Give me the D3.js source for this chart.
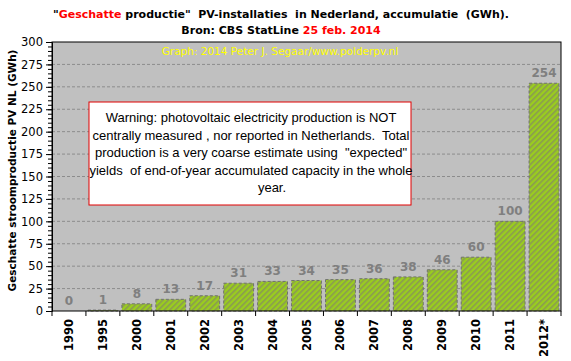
<!DOCTYPE html>
<html>
<head>
<meta charset="utf-8">
<script src="https://cdn.jsdelivr.net/npm/d3@7"></script>
<style>
  body { margin: 0; background: #fff; }
  svg { display: block; }
  text { white-space: pre; }
</style>
</head>
<body>
<svg id="chart" width="571" height="361"></svg>
<script>
// data
var years = ['1990', '1995', '2000', '2001', '2002', '2003', '2004', '2005', '2006', '2007', '2008', '2009', '2010', '2011', '2012*'];
var production = [0, 1, 8, 13, 17, 31, 33, 34, 35, 36, 38, 46, 60, 100, 254];
var yTicks = [0, 25, 50, 75, 100, 125, 150, 175, 200, 225, 250, 275, 300];
var warningLines = [
    'Warning: photovoltaic electricity production is NOT',
    'centrally measured , nor reported in Netherlands.  Total',
    'production is a very coarse estimate using  "expected"',
    'yields  of end-of-year accumulated capacity in the whole',
    'year.'
];

var margin = {left: 52, top: 42, right: 10, bottom: 50};
var width = 571, height = 361;
var innerW = width - margin.left - margin.right;
var innerH = height - margin.top - margin.bottom;

var svg = d3.select('#chart');

// hatch fill for the bars
var defs = svg.append('defs');
var pat = defs.append('pattern')
    .attr('id', 'hatch')
    .attr('patternUnits', 'userSpaceOnUse')
    .attr('width', 4).attr('height', 4)
    .attr('patternTransform', 'rotate(45)');
pat.append('rect').attr('width', 4).attr('height', 4).attr('fill', '#9acd1e');
pat.append('rect').attr('width', 1.6).attr('height', 4).attr('fill', '#8a9a52');

var g = svg.append('g').attr('transform', 'translate(' + margin.left + ',' + margin.top + ')');

var x = d3.scaleBand().domain(years).range([0, innerW]).paddingInner(0.12).paddingOuter(0.06);
var y = d3.scaleLinear().domain([0, 300]).range([innerH, 0]);

// plot background
g.append('rect')
    .attr('width', innerW).attr('height', innerH)
    .attr('fill', '#c0c0c0');

// dashed gridlines
g.selectAll('line.grid').data(yTicks.slice(1, -1)).enter().append('line')
    .attr('class', 'grid')
    .attr('x1', 0).attr('x2', innerW)
    .attr('y1', function (d) { return y(d); })
    .attr('y2', function (d) { return y(d); })
    .attr('stroke', '#8c8c8c')
    .attr('stroke-width', 1)
    .attr('stroke-dasharray', '3,2');

// watermark
g.append('text')
    .attr('x', 228).attr('y', 13)
    .attr('text-anchor', 'middle')
    .attr('font-family', 'DejaVu Sans, Verdana, sans-serif')
    .attr('font-size', 10.5)
    .attr('fill', '#ffff00')
    .text('Graph: 2014 Peter J. Segaar/www.polderpv.nl');

// bars
g.selectAll('rect.bar').data(production).enter().append('rect')
    .attr('class', 'bar')
    .attr('x', function (d, i) { return x(years[i]); })
    .attr('width', x.bandwidth())
    .attr('y', function (d) { return y(d); })
    .attr('height', function (d) { return innerH - y(d); })
    .attr('fill', 'url(#hatch)')
    .attr('stroke', '#707070')
    .attr('stroke-width', 1)
    .attr('stroke-dasharray', '3,2');

// value labels
g.selectAll('text.val').data(production).enter().append('text')
    .attr('class', 'val')
    .attr('x', function (d, i) { return x(years[i]) + x.bandwidth() / 2; })
    .attr('y', function (d) { return y(d) - 6; })
    .attr('text-anchor', 'middle')
    .attr('font-family', 'DejaVu Sans, Verdana, sans-serif')
    .attr('font-weight', 'bold')
    .attr('font-size', 12)
    .attr('fill', '#7f7f7f')
    .text(function (d) { return d; });

// border
g.append('rect')
    .attr('width', innerW).attr('height', innerH)
    .attr('fill', 'none')
    .attr('stroke', '#000').attr('stroke-width', 1);

// y axis with minor ticks
var yMinor = d3.axisLeft(y).tickValues(d3.range(0, 301, 5)).tickSize(4).tickFormat('');
g.append('g').call(yMinor).call(function (a) { a.select('.domain').remove(); });
var yAxis = d3.axisLeft(y).tickValues(yTicks).tickSize(6).tickPadding(3);
g.append('g').call(yAxis)
    .call(function (a) {
        a.select('.domain').attr('stroke', '#000');
        a.selectAll('text')
            .attr('font-family', 'DejaVu Sans, Verdana, sans-serif')
            .attr('font-size', 11.5)
            .attr('fill', '#000');
    });

// x axis: ticks at category boundaries
g.selectAll('line.xtick').data(d3.range(years.length + 1)).enter().append('line')
    .attr('class', 'xtick')
    .attr('x1', function (i) { return i * innerW / years.length; })
    .attr('x2', function (i) { return i * innerW / years.length; })
    .attr('y1', innerH).attr('y2', innerH + 5)
    .attr('stroke', '#000');

g.selectAll('text.xlab').data(years).enter().append('text')
    .attr('class', 'xlab')
    .attr('transform', function (d) {
        return 'translate(' + (x(d) + x.bandwidth() / 2 + 4) + ',' + (innerH + 8) + ') rotate(-90)';
    })
    .attr('text-anchor', 'end')
    .attr('font-family', 'DejaVu Sans, Verdana, sans-serif')
    .attr('font-weight', 'bold')
    .attr('font-size', 11.5)
    .attr('fill', '#000')
    .text(function (d) { return d; });

// y axis title
svg.append('text')
    .attr('transform', 'translate(16,' + (margin.top + innerH / 2 - 6) + ') rotate(-90)')
    .attr('text-anchor', 'middle')
    .attr('font-family', 'DejaVu Sans, Verdana, sans-serif')
    .attr('font-weight', 'bold')
    .attr('font-size', 10.5)
    .attr('fill', '#000')
    .text('Geschatte stroomproductie PV NL (GWh)');

// title
var t1 = svg.append('text')
    .attr('x', 281).attr('y', 18)
    .attr('text-anchor', 'middle')
    .attr('font-family', 'DejaVu Sans, Verdana, sans-serif')
    .attr('font-weight', 'bold')
    .attr('font-size', 11)
    .attr('fill', '#000');
t1.append('tspan').text('"');
t1.append('tspan').attr('fill', '#ff0000').text('Geschatte');
t1.append('tspan').text(' productie"  PV-installaties  in Nederland, accumulatie  (GWh).');

var t2 = svg.append('text')
    .attr('x', 281).attr('y', 34)
    .attr('text-anchor', 'middle')
    .attr('font-family', 'DejaVu Sans, Verdana, sans-serif')
    .attr('font-weight', 'bold')
    .attr('font-size', 11)
    .attr('fill', '#000');
t2.append('tspan').text('Bron: CBS StatLine ');
t2.append('tspan').attr('fill', '#ff0000').text('25 feb. 2014');

// warning box
var box = svg.append('g');
box.append('rect')
    .attr('x', 89).attr('y', 102)
    .attr('width', 322).attr('height', 103)
    .attr('fill', '#fff')
    .attr('stroke', '#e00000').attr('stroke-width', 1);
box.selectAll('text').data(warningLines).enter().append('text')
    .attr('x', function (d, i) { return i === 4 ? 272 : 251; })
    .attr('y', function (d, i) { return 122 + i * 17.5; })
    .attr('text-anchor', 'middle')
    .attr('font-family', 'Liberation Sans, Arial, sans-serif')
    .attr('font-size', 13)
    .attr('fill', '#000')
    .text(function (d) { return d; });
</script>
</body>
</html>
